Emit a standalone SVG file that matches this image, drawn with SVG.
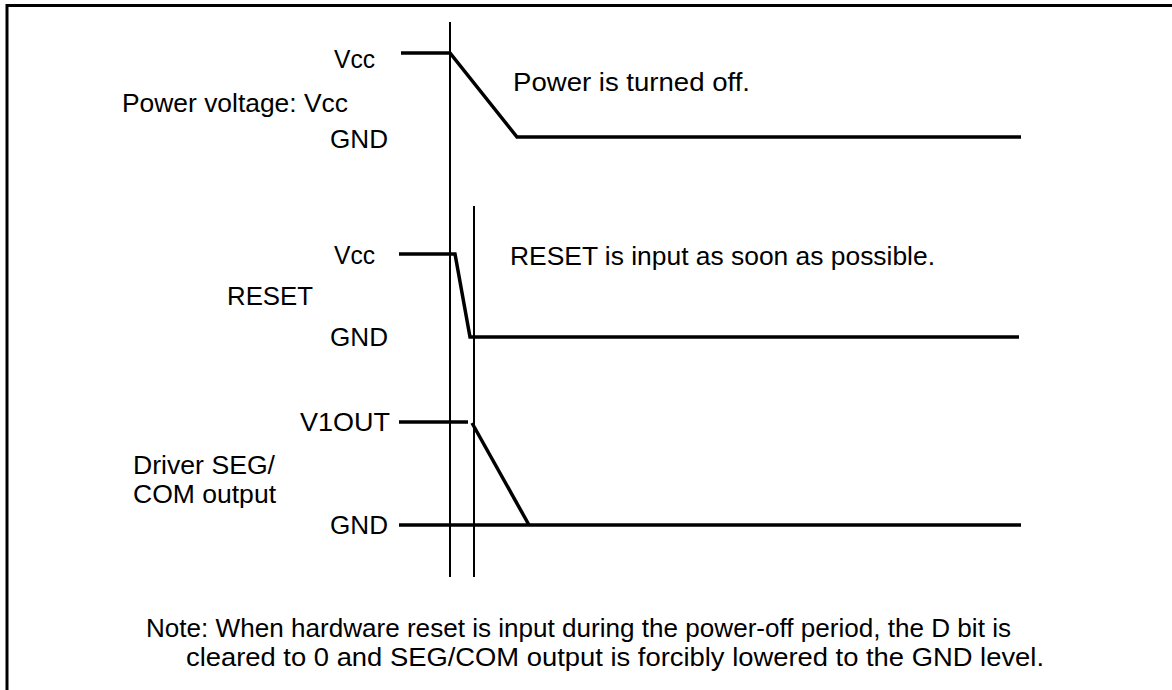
<svg xmlns="http://www.w3.org/2000/svg" width="1172" height="690" viewBox="0 0 1172 690">
<style>
text{font-family:"Liberation Sans",Arial,sans-serif;font-size:26px;fill:#000}
.thin{stroke:#000;stroke-width:2;fill:none}
.sig{stroke:#000;stroke-width:3.5;fill:none;stroke-linejoin:miter}
.frame{stroke:#000;stroke-width:3;fill:none}
</style>
<rect width="1172" height="690" fill="#fff"/>
<path class="frame" d="M7,690 V5.5 H1172"/>
<g id="markers">
<line class="thin" x1="450" y1="22" x2="450" y2="577"/>
<line class="thin" x1="474" y1="206" x2="474" y2="577"/>
</g>
<g id="connectors">
<polyline class="sig" points="401,53 450,53 517,137 1021,137"/>
<polyline class="sig" points="399,254 455,254 470,337 1019,337"/>
<line class="sig" x1="399" y1="422" x2="468" y2="422"/>
<line class="sig" x1="472" y1="423" x2="529" y2="525"/>
<line class="sig" x1="399" y1="525" x2="1021" y2="525"/>
</g>
<g id="power">
<text x="334" y="68" textLength="41" lengthAdjust="spacingAndGlyphs">Vcc</text>
<text x="122" y="112" textLength="226" lengthAdjust="spacingAndGlyphs">Power voltage: Vcc</text>
<text x="330" y="148" textLength="58" lengthAdjust="spacingAndGlyphs">GND</text>
<text x="513" y="91" textLength="237" lengthAdjust="spacingAndGlyphs">Power is turned off.</text>
</g>
<g id="reset">
<text x="334" y="264" textLength="41" lengthAdjust="spacingAndGlyphs">Vcc</text>
<text x="227" y="305" textLength="86" lengthAdjust="spacingAndGlyphs">RESET</text>
<text x="330" y="346" textLength="58" lengthAdjust="spacingAndGlyphs">GND</text>
<text x="510" y="265" textLength="425" lengthAdjust="spacingAndGlyphs">RESET is input as soon as possible.</text>
</g>
<g id="driver">
<text x="300" y="431" textLength="90" lengthAdjust="spacingAndGlyphs">V1OUT</text>
<text x="133" y="474" textLength="142" lengthAdjust="spacingAndGlyphs">Driver SEG/</text>
<text x="133" y="503" textLength="143" lengthAdjust="spacingAndGlyphs">COM output</text>
<text x="330" y="534" textLength="58" lengthAdjust="spacingAndGlyphs">GND</text>
</g>
<g id="note">
<text x="146" y="637" textLength="865" lengthAdjust="spacingAndGlyphs">Note: When hardware reset is input during the power-off period, the D bit is</text>
<text x="186" y="666" textLength="858" lengthAdjust="spacingAndGlyphs">cleared to 0 and SEG/COM output is forcibly lowered to the GND level.</text>
</g>
</svg>
